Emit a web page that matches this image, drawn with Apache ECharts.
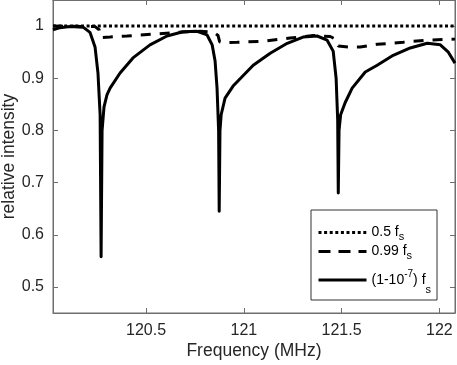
<!DOCTYPE html>
<html>
<head>
<meta charset="utf-8">
<script src="https://cdn.jsdelivr.net/npm/echarts@6/dist/echarts.min.js"></script>
<style>
  html, body { margin: 0; padding: 0; background: #fff; }
  #chart { width: 457px; height: 365px; }
</style>
</head>
<body>
<div id="chart"></div>
<script>
// frequency axis (MHz) and tick labels
const xTicks = [120.5, 121, 121.5, 122]
const yTicks = [0.5, 0.6, 0.7, 0.8, 0.9, 1]

// 0.5 fs  (dotted)
const freqDotted = [120.024, 122.080]
const intDotted = [1.0, 1.0]

// 0.99 fs  (dashed)
const freqDashed = [120.024, 120.239, 120.260, 120.270, 120.280, 120.316, 120.403, 120.556, 120.659, 120.776,
  120.848, 120.868, 120.876, 120.894, 120.966, 121.099, 121.237, 121.355, 121.442, 121.468,
  121.483, 121.534, 121.595, 121.682, 121.815, 121.938, 122.080]
const intDashed = [1.0, 0.999, 0.993, 0.978, 0.977, 0.979, 0.981, 0.985, 0.988, 0.990,
  0.988, 0.982, 0.970, 0.968, 0.969, 0.971, 0.977, 0.982, 0.980, 0.975,
  0.962, 0.960, 0.960, 0.965, 0.969, 0.973, 0.975]

// (1-10^-7) fs  (solid)
const freqSolid = [120.024, 120.06, 120.111, 120.178, 120.213, 120.239, 120.254, 120.265, 120.270, 120.275,
  120.285, 120.300, 120.316, 120.367, 120.433, 120.520, 120.607, 120.689, 120.761, 120.812,
  120.838, 120.853, 120.863, 120.871, 120.874, 120.878, 120.884, 120.904, 120.945, 121.048,
  121.135, 121.222, 121.303, 121.375, 121.426, 121.457, 121.472, 121.480, 121.483, 121.487,
  121.495, 121.518, 121.554, 121.621, 121.682, 121.764, 121.851, 121.938, 122.005, 122.046, 122.080]
const intSolid = [0.993, 0.997, 0.999, 0.998, 0.988, 0.960, 0.910, 0.830, 0.558, 0.800,
  0.845, 0.868, 0.881, 0.910, 0.939, 0.964, 0.981, 0.989, 0.990, 0.983,
  0.964, 0.933, 0.881, 0.800, 0.645, 0.800, 0.830, 0.862, 0.885, 0.925,
  0.948, 0.967, 0.979, 0.981, 0.973, 0.952, 0.900, 0.820, 0.680, 0.800,
  0.830, 0.853, 0.881, 0.912, 0.925, 0.944, 0.958, 0.967, 0.964, 0.950, 0.929]

const seriesNames = ['0.5 fs', '0.99 fs', '(1-10-7) fs']

const zip = (xs, ys) => xs.map((x, i) => [x, ys[i]])

const font = 'Liberation Sans, Arial, sans-serif'
const axisGray = '#6e6e6e'
const textColor = '#262626'
const xMin = 120.024
const xMax = 122.080
const yMin = 0.45
const yMax = 1.05

const chart = echarts.init(document.getElementById('chart'))

// 坐标轴公共部分
const baseAxis = {
  type: 'value',
  nameMoveOverlap: false,
  axisLine: { show: true, onZero: false, lineStyle: { color: axisGray, width: 1 } },
  splitLine: { show: false },
}

chart.setOption({
  animation: false,
  textStyle: { fontFamily: font },
  grid: {
    left: 53, right: 2, top: 0, bottom: 52,
    outerBoundsMode: 'none',
    containLabel: false,
    show: true, borderColor: axisGray, borderWidth: 1,
  },
  xAxis: [
    {
      ...baseAxis,
      min: xMin, max: xMax,
      position: 'bottom',
      name: 'Frequency (MHz)',
      nameLocation: 'middle',
      nameGap: 29,
      nameTextStyle: { fontSize: 17.5, color: textColor },
      axisTick: { inside: true, length: 5, lineStyle: { color: axisGray }, customValues: xTicks },
      axisLabel: { fontSize: 16, color: textColor, margin: 10, customValues: xTicks, formatter: v => String(v) },
    },
    {
      ...baseAxis,
      min: xMin, max: xMax,
      position: 'top',
      axisTick: { inside: true, length: 5, lineStyle: { color: axisGray }, customValues: xTicks },
      axisLabel: { show: false },
    },
  ],
  yAxis: [
    {
      ...baseAxis,
      min: yMin, max: yMax,
      position: 'left',
      name: 'relative intensity',
      nameLocation: 'middle',
      nameGap: 35,
      nameTextStyle: { fontSize: 17.5, color: textColor },
      axisTick: { inside: true, length: 5, lineStyle: { color: axisGray }, customValues: yTicks },
      axisLabel: { fontSize: 16, color: textColor, margin: 9, customValues: yTicks, formatter: v => String(v) },
    },
    {
      ...baseAxis,
      min: yMin, max: yMax,
      position: 'right',
      axisTick: { inside: true, length: 5, lineStyle: { color: axisGray }, customValues: yTicks },
      axisLabel: { show: false },
    },
  ],
  legend: {
    orient: 'vertical',
    left: 311,
    top: 210,
    padding: [13, 6, 1, 6],
    itemGap: 0,
    itemWidth: 48,
    itemHeight: 14,
    backgroundColor: '#fff',
    borderColor: '#333',
    borderWidth: 1,
    borderRadius: 0,
    itemStyle: { opacity: 0 },
    data: [
      { name: seriesNames[0], lineStyle: { width: 3, type: [3, 2.6] } },
      { name: seriesNames[1], lineStyle: { width: 3, type: [12, 8] } },
      { name: seriesNames[2], lineStyle: { width: 3, type: 'solid' } },
    ],
    formatter: function (name) {
      if (name === seriesNames[0]) return '0.5 f{s|s}'
      if (name === seriesNames[1]) return '0.99 f{s|s}'
      return '{m3|(1-10}{p|-7}{m3|) f}{s3|s}'
    },
    textStyle: {
      fontSize: 14,
      color: '#000',
      lineHeight: 19,
      rich: {
        s: { fontSize: 11, verticalAlign: 'bottom', lineHeight: 11, color: '#000' },
        m3: { fontSize: 14, lineHeight: 38, color: '#000' },
        p: { fontSize: 10, verticalAlign: 'top', lineHeight: 10, padding: [8, 0, 0, 0], color: '#000' },
        s3: { fontSize: 11, verticalAlign: 'bottom', lineHeight: 11, padding: [0, 0, 4, 0], color: '#000' },
      },
    },
  },
  series: [
    {
      name: seriesNames[0],
      type: 'line',
      data: zip(freqDotted, intDotted),
      symbol: 'none',
      lineStyle: { color: '#000', width: 3, type: [3, 2.6] },
      itemStyle: { color: '#000' },
    },
    {
      name: seriesNames[1],
      type: 'line',
      data: zip(freqDashed, intDashed),
      symbol: 'none',
      lineStyle: { color: '#000', width: 3, type: [10, 9] },
      itemStyle: { color: '#000' },
    },
    {
      name: seriesNames[2],
      type: 'line',
      data: zip(freqSolid, intSolid),
      symbol: 'none',
      lineStyle: { color: '#000', width: 3, join: 'round' },
      itemStyle: { color: '#000' },
    },
  ],
})
</script>
</body>
</html>
